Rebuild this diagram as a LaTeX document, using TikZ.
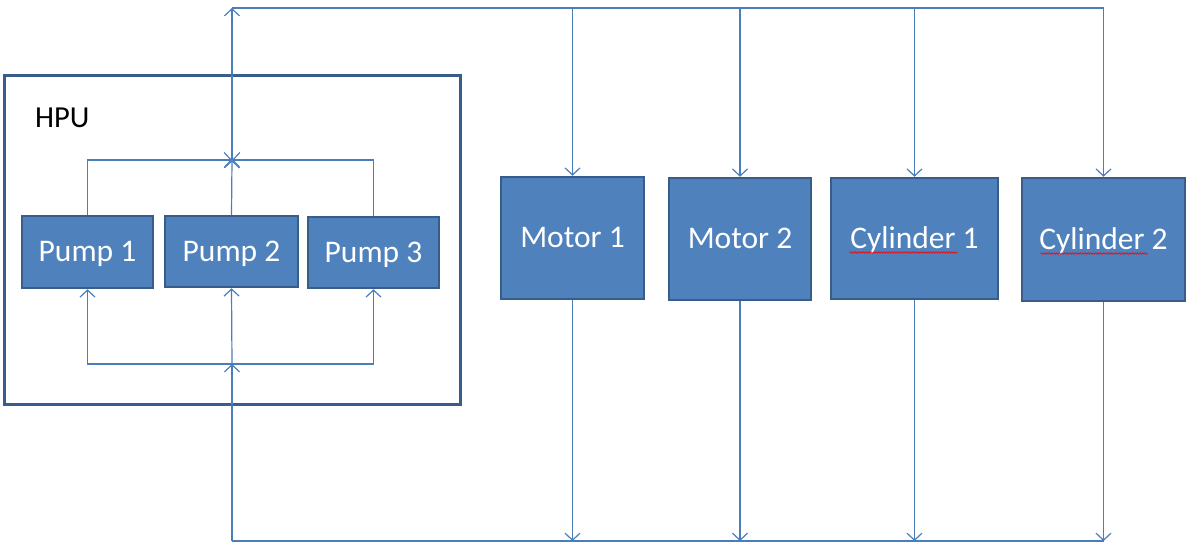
\documentclass[tikz,border=0pt]{standalone}
\usepackage{fontspec}
\setmainfont{Carlito}
\usetikzlibrary{arrows.meta,decorations.pathmorphing}
\definecolor{boxfill}{HTML}{4F81BD}
\definecolor{boxedge}{HTML}{385D8A}
\definecolor{linecol}{HTML}{4A7EBB}
\begin{document}
\begin{tikzpicture}[x=1pt,y=-1pt,
 blk/.style={draw=boxedge,fill=boxfill,line width=2.5pt,text=white,font=\fontsize{31.5}{36}\selectfont,inner sep=0pt,text height=22pt,text depth=3pt},
 flow/.style={draw=linecol,line width=1.2pt,-{Straight Barb[length=7pt,width=15pt,line width=1.2pt]}},
 ln/.style={draw=linecol,line width=1.2pt},
 squig/.style={draw=red,line width=0.6pt,decorate,decoration={snake,amplitude=0.8pt,segment length=2.6pt}}]
\path[use as bounding box] (0,0) rectangle (1187,544);
% HPU frame
\node[draw=boxedge,line width=3pt,minimum width=456,minimum height=329,inner sep=0pt] (hpu) at (232,239.5) {};
\node[anchor=west,font=\fontsize{30.5}{34}\selectfont,inner sep=0pt] (hpulabel) at (35,118) {HPU};
% pumps
\node[blk,minimum width=131,minimum height=72] (p1) at (87.5,252) {Pump 1};
\node[blk,minimum width=133,minimum height=71] (p2) at (231.5,251.5) {Pump 2};
\node[blk,minimum width=131,minimum height=71] (p3) at (373.5,252.5) {Pump 3};
% consumers
\node[blk,minimum width=143,minimum height=122] (m1) at (572.5,238) {Motor 1};
\node[blk,minimum width=142,minimum height=122] (m2) at (740,239) {Motor 2};
\node[blk,minimum width=167,minimum height=121] (c1) at (914.5,238.5) {Cylinder 1};
\node[blk,minimum width=163,minimum height=123] (c2) at (1103.5,239.5) {Cylinder 2};
% spell-check squiggles
\draw[squig] ([shift={(-65,14)}]c1.center) -- ([shift={(43,14)}]c1.center);
\draw[squig] ([shift={(-63,14)}]c2.center) -- ([shift={(44,14)}]c2.center);
% junctions
\coordinate (top) at (232,8);
\coordinate (ju) at (232,160);
\coordinate (jl) at (232,364);
\coordinate (bot) at (232,541);
% pressure side
\draw[flow] (p1.north) |- (ju);
\draw[flow] (p3.north) |- (ju);
\draw[flow] (p2.north) -- (ju);
\draw[flow] (ju) -- (top);
\draw[ln] (top) -- (c2.north |- top);
\draw[flow] (m1.north |- top) -- (m1.north);
\draw[flow] (m2.north |- top) -- (m2.north);
\draw[flow] (c1.north |- top) -- (c1.north);
\draw[flow] (c2.north |- top) -- (c2.north);
% return side
\draw[flow] (m1.south) -- (m1.south |- bot);
\draw[flow] (m2.south) -- (m2.south |- bot);
\draw[flow] (c1.south) -- (c1.south |- bot);
\draw[flow] (c2.south) -- (c2.south |- bot);
\draw[ln] (c2.south |- bot) -- (bot);
\draw[flow] (bot) -- (jl);
\draw[flow] (jl) -- (p2.south);
\draw[flow] (jl) -| (p1.south);
\draw[flow] (jl) -| (p3.south);
\end{tikzpicture}
\end{document}
